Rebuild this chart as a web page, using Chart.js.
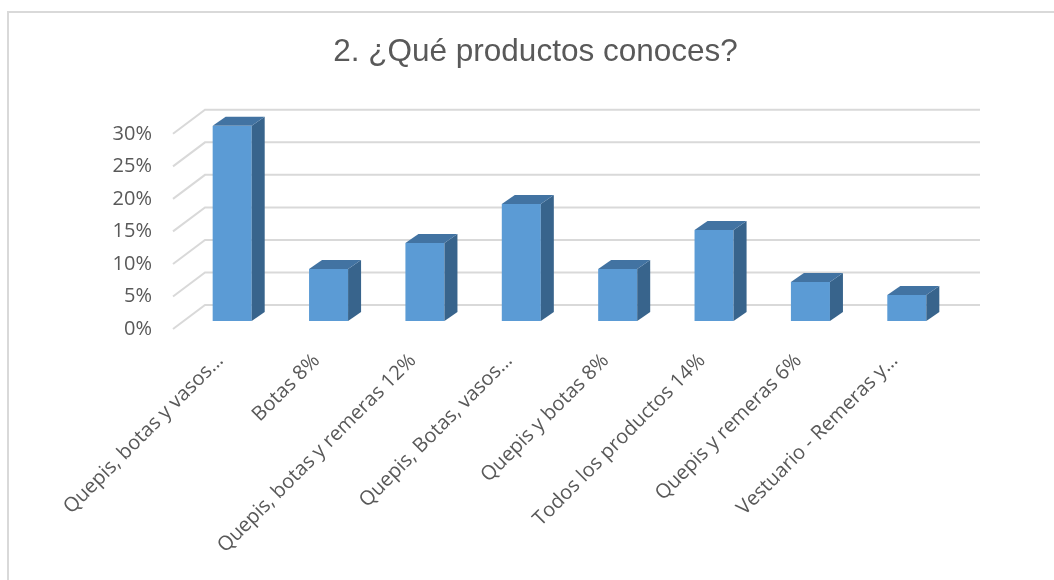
<!DOCTYPE html>
<html>
<head>
<meta charset="utf-8">
<script src="https://cdn.jsdelivr.net/npm/chart.js@4"></script>
<style>
  html, body { margin: 0; padding: 0; background: #ffffff; }
  canvas { display: block; }
</style>
</head>
<body>
<canvas id="c" width="1054" height="580"></canvas>
<script>
const titleText = '2. ¿Qué productos conoces?';
const categories = [
  'Quepis, botas y vasos…',
  'Botas 8%',
  'Quepis, botas y remeras 12%',
  'Quepis, Botas, vasos…',
  'Quepis y botas 8%',
  'Todos los productos 14%',
  'Quepis y remeras 6%',
  'Vestuario - Remeras y…'
];
const values = [30, 8, 12, 18, 8, 14, 6, 4];
const yTicks = [0, 5, 10, 15, 20, 25, 30];

const frontColor = '#5B9BD5';
const topColor = '#4273A2';
const sideColor = '#38648C';
const gridColor = '#D9D9D9';
const textColor = '#595959';

// 3D depth offsets (pixels)
const DEPTH_X = 13, DEPTH_Y = -9;

const frame3d = {
  id: 'frame3d',
  beforeDraw(chart) {
    const ctx = chart.ctx;
    ctx.save();
    ctx.fillStyle = '#ffffff';
    ctx.fillRect(0, 0, chart.width, chart.height);
    ctx.strokeStyle = gridColor;
    ctx.lineWidth = 2;
    ctx.beginPath();
    ctx.moveTo(8, chart.height + 5);
    ctx.lineTo(8, 12);
    ctx.lineTo(chart.width + 5, 12);
    ctx.stroke();
    ctx.restore();
  },
  beforeDatasetsDraw(chart) {
    const ctx = chart.ctx;
    const y = chart.scales.y;
    ctx.save();
    ctx.strokeStyle = gridColor;
    ctx.lineWidth = 2;
    yTicks.forEach(v => {
      const py = y.getPixelForValue(v);
      ctx.beginPath();
      ctx.moveTo(173, py + 8);
      ctx.lineTo(205, py - 16);
      ctx.lineTo(980, py - 16);
      ctx.stroke();
    });
    ctx.restore();
  },
  afterDatasetsDraw(chart) {
    const ctx = chart.ctx;
    const meta = chart.getDatasetMeta(0);
    ctx.save();
    meta.data.forEach(bar => {
      const p = bar.getProps(['x', 'y', 'base', 'width'], true);
      const l = p.x - p.width / 2, r = p.x + p.width / 2;
      const t = p.y, b = p.base;
      // side face
      ctx.fillStyle = sideColor;
      ctx.beginPath();
      ctx.moveTo(r, t);
      ctx.lineTo(r + DEPTH_X, t + DEPTH_Y);
      ctx.lineTo(r + DEPTH_X, b + DEPTH_Y);
      ctx.lineTo(r, b);
      ctx.closePath();
      ctx.fill();
      // top face
      ctx.fillStyle = topColor;
      ctx.beginPath();
      ctx.moveTo(l, t);
      ctx.lineTo(l + DEPTH_X, t + DEPTH_Y);
      ctx.lineTo(r + DEPTH_X, t + DEPTH_Y);
      ctx.lineTo(r, t);
      ctx.closePath();
      ctx.fill();
    });
    ctx.restore();
  }
};

new Chart(document.getElementById('c'), {
  type: 'bar',
  data: {
    labels: categories,
    datasets: [{
      data: values,
      backgroundColor: frontColor,
      borderWidth: 0,
      barPercentage: 0.405,
      categoryPercentage: 1.0
    }]
  },
  options: {
    responsive: false,
    animation: false,
    events: [],
    layout: { padding: { left: 17, right: 0, top: 0, bottom: 0 } },
    plugins: {
      legend: { display: false },
      tooltip: { enabled: false },
      title: {
        display: true,
        text: titleText,
        color: textColor,
        font: { family: '"Liberation Sans", Arial, sans-serif', size: 31.5, weight: 'normal' },
        padding: { top: 33, bottom: 55 }
      }
    },
    scales: {
      x: {
        grid: { display: false, drawTicks: false },
        border: { display: false },
        ticks: {
          color: textColor,
          font: { family: '"Open Sans", sans-serif', size: 20 },
          maxRotation: 45,
          minRotation: 45,
          autoSkip: false,
          padding: 28,
          labelOffset: -12
        },
        afterFit(scale) {
          scale.height = 259;
          scale.paddingLeft = 0;
          scale.paddingRight = 0;
        }
      },
      y: {
        min: 0,
        max: 30,
        grid: { display: false, drawTicks: false },
        border: { display: false },
        afterBuildTicks(scale) {
          scale.ticks = yTicks.map(v => ({ value: v }));
        },
        ticks: {
          color: textColor,
          font: { family: '"Open Sans", sans-serif', size: 20 },
          padding: 32,
          labelOffset: 8,
          callback: v => v + '%'
        },
        afterFit(scale) {
          scale.width = 167;
          scale.paddingTop = 0;
          scale.paddingBottom = 0;
        }
      },
      yR: {
        type: 'linear',
        position: 'right',
        display: true,
        grid: { display: false, drawTicks: false },
        border: { display: false },
        ticks: { display: false },
        afterFit(scale) {
          scale.width = 99;
          scale.paddingTop = 0;
          scale.paddingBottom = 0;
        }
      }
    }
  },
  plugins: [frame3d]
});
</script>
</body>
</html>
